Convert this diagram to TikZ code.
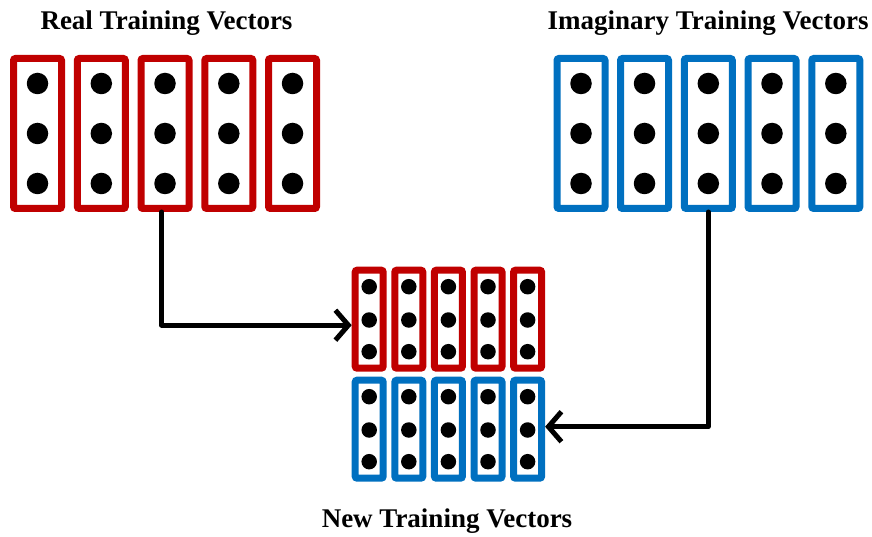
\documentclass[tikz,border=0pt]{standalone}
\usepackage{fontspec}
\setmainfont{Liberation Serif}
\usetikzlibrary{arrows.meta,calc}
\definecolor{vred}{HTML}{C00000}
\definecolor{vblue}{HTML}{0070C0}
\tikzset{
  bigvec/.style={draw, line width=7pt, rounded corners=2pt, minimum width=48pt, minimum height=150pt, inner sep=0pt, fill=white},
  smallvec/.style={draw, line width=7pt, rounded corners=2pt, minimum width=28pt, minimum height=98pt, inner sep=0pt, fill=white},
  bigdot/.style={circle, fill=black, minimum size=21.5pt, inner sep=0pt},
  smalldot/.style={circle, fill=black, minimum size=15.5pt, inner sep=0pt},
  flow/.style={line width=5pt, -{Straight Barb[length=13pt,width=30pt]}, line cap=round, line join=round},
  title/.style={font=\fontsize{27}{30}\selectfont\bfseries, anchor=base, inner sep=0pt}
}
\begin{document}
\begin{tikzpicture}[x=1pt, y=-1pt]
\useasboundingbox (0,0) rectangle (872,537);
% titles
\node[title] (treal) at (166.5,30) {Real Training Vectors};
\node[title] (timag) at (708,30) {Imaginary Training Vectors};
\node[title] (tnew) at (447,527) {New Training Vectors};
% top groups
\foreach \i/\x in {1/37.5,2/101.3,3/165,4/228.8,5/292.5} {
  \node[bigvec, draw=vred] (r\i) at (\x,133.5) {};
  \foreach \j/\d in {1/-50,2/0,3/50}
    \node[bigdot] (r\i d\j) at (\x,{133.5+\d}) {};
}
\foreach \i/\x in {1/581,2/644.5,3/708.3,4/772,5/835.8} {
  \node[bigvec, draw=vblue] (m\i) at (\x,133.5) {};
  \foreach \j/\d in {1/-50,2/0,3/50}
    \node[bigdot] (m\i d\j) at (\x,{133.5+\d}) {};
}
% new stacks
\foreach \i/\x in {1/369.2,2/408.8,3/448.4,4/488,5/527.6} {
  \node[smallvec, draw=vred] (cr\i) at (\x,319.2) {};
  \foreach \j/\d in {1/-32.5,2/0.8,3/32.5}
    \node[smalldot] (cr\i d\j) at (\x,{319.2+\d}) {};
  \node[smallvec, draw=vblue] (cb\i) at (\x,429.2) {};
  \foreach \j/\d in {1/-32.5,2/0.8,3/32.5}
    \node[smalldot] (cb\i d\j) at (\x,{429.2+\d}) {};
}
% connectors
\draw[flow] ([xshift=-3.3pt]r3.south) |- ([yshift=-6pt]cr1.west);
\draw[flow] (m3.south) |- ([yshift=2.5pt]cb5.east);
\end{tikzpicture}
\end{document}
